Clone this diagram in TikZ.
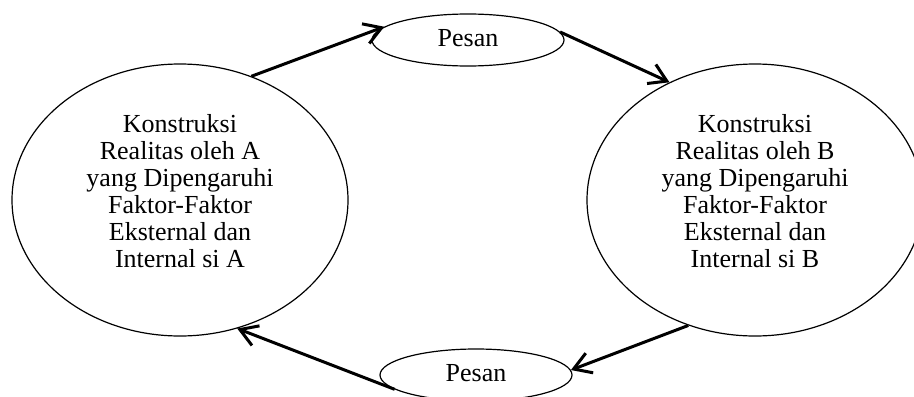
\documentclass[tikz,border=0pt]{standalone}
\usepackage{fontspec}
\setmainfont{Liberation Serif}
\usetikzlibrary{shapes.geometric, arrows.meta}

\tikzset{
  view/.style={ellipse, draw, line width=0.6pt, minimum width=168pt,
    minimum height=136pt, inner sep=0pt},
  viewtext/.style={align=center, inner sep=0pt,
    font=\fontsize{13}{13.55}\selectfont},
  msg/.style={ellipse, draw, line width=0.6pt, minimum width=96pt,
    minimum height=26pt, inner sep=0pt, font=\fontsize{13}{13.55}\selectfont},
  flow/.style={line width=1.5pt, -{Straight Barb[length=8.5pt, width=10.5pt]}}
}

\begin{document}
\begin{tikzpicture}[x=0.5pt, y=-0.5pt]
    % Frame (914 x 396 px, y downwards)
    \useasboundingbox (0,0) rectangle (914,396);
    \clip (0,0) rectangle (914,396);

    % Reality construction of A and B
    \node[view] (A) at (180,200) {};
    \node[viewtext] (tA) at (180,191) {Konstruksi\\Realitas oleh A\\yang Dipengaruhi\\Faktor-Faktor\\Eksternal dan\\Internal si A};
    \node[view] (B) at (755,200) {};
    \node[viewtext] (tB) at (755,191) {Konstruksi\\Realitas oleh B\\yang Dipengaruhi\\Faktor-Faktor\\Eksternal dan\\Internal si B};

    % Messages
    \node[msg, text depth=2pt] (P1) at (468,40) {Pesan};
    \node[msg, text depth=2pt] (P2) at (476,375) {Pesan};

    % Flow A -> Pesan -> B -> Pesan -> A
    \draw[flow] (A.60) -- (P1.171);
    \draw[flow] (P1.5) -- (B.126);
    \draw[flow] (B.242) -- (P2.3);
    \draw[flow] (P2.190) -- (A.294);
\end{tikzpicture}
\end{document}
